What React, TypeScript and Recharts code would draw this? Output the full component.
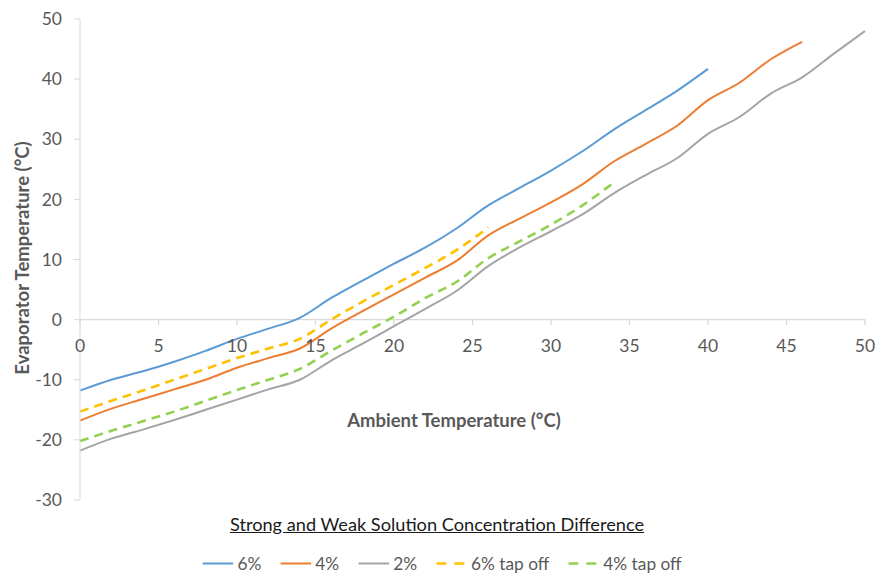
import { LineChart, Line, XAxis, YAxis, ReferenceLine, ReferenceDot } from "recharts";

const ambient = [0, 2, 4, 6, 8, 10, 12, 14, 16, 18, 20, 22, 24, 26, 28, 30, 32, 34, 36, 38, 40, 42, 44, 46, 48, 50];
const conc6 = [-11.8, -10, -8.6, -7, -5.2, -3.2, -1.5, 0.3, 3.6, 6.5, 9.3, 12, 15.2, 19, 21.9, 24.8, 28, 31.6, 34.8, 38, 41.7];
const conc4 = [-16.8, -14.8, -13.2, -11.6, -10, -8, -6.4, -4.8, -1.5, 1.4, 4.2, 7, 9.8, 14, 16.8, 19.5, 22.5, 26.3, 29.2, 32.2, 36.5, 39.4, 43.3, 46.2];
const conc2 = [-21.8, -19.8, -18.3, -16.7, -15, -13.3, -11.6, -10, -6.8, -4, -1.1, 1.8, 4.8, 8.9, 12, 14.7, 17.5, 21, 24, 26.8, 30.9, 33.7, 37.6, 40.3, 44.2, 48];
const tap6 = [-15.3, -13.5, -11.8, -10, -8.2, -6.4, -4.8, -3.2, 0, 3, 5.8, 8.6, 11.6, 15.3];
const tap4 = [-20.2, -18.5, -16.9, -15.3, -13.5, -11.7, -10, -8.2, -5.2, -2.3, 0.5, 3.6, 6.3, 10.2, 13, 15.8, 19, 22.8];

const xTicks = [0, 5, 10, 15, 20, 25, 30, 35, 40, 45, 50];
const yTicks = [-30, -20, -10, 0, 10, 20, 30, 40, 50];

const series = [
  { key: "p6", name: "6%", values: conc6, color: "#5B9BD5", dash: undefined },
  { key: "p4", name: "4%", values: conc4, color: "#ED7D31", dash: undefined },
  { key: "p2", name: "2%", values: conc2, color: "#A5A5A5", dash: undefined },
  { key: "t6", name: "6% tap off", values: tap6, color: "#FFC000", dash: "9 6" },
  { key: "t4", name: "4% tap off", values: tap4, color: "#92D050", dash: "9 6" },
];

const rows = ambient.map((x, i) => {
  const row: Record<string, number | null> = { x };
  series.forEach((s) => {
    row[s.key] = i < s.values.length ? s.values[i] : null;
  });
  return row;
});

const font = "Lato, 'Open Sans', sans-serif";
const grey = "#595959";
const axisGrey = "#d9d9d9";

export default function App() {
  return (
    <div style={{ position: "absolute", left: 0, top: 0, width: 877, height: 574, background: "#fff", fontFamily: font }}>
      <LineChart width={877} height={574} data={rows} margin={{ top: 19, right: 12, bottom: 74, left: 0 }}>
        <XAxis dataKey="x" type="number" domain={[0, 50]} ticks={xTicks} hide />
        <YAxis
          type="number"
          domain={[-30, 50]}
          ticks={yTicks}
          width={80}
          axisLine={{ stroke: axisGrey }}
          tickLine={{ stroke: axisGrey }}
          tickSize={6}
          tickMargin={12}
          tick={{ fill: grey, fontSize: 17.5, fontFamily: font }}
        />
        <ReferenceLine y={0} stroke={axisGrey} strokeWidth={1.3} />
        {xTicks.map((v) => (
          <ReferenceLine
            key={"t" + v}
            segment={[{ x: v, y: 0 }, { x: v, y: -0.9 }]}
            stroke={axisGrey}
            strokeWidth={1.3}
          />
        ))}
        {xTicks.map((v) => (
          <ReferenceDot
            key={"l" + v}
            x={v}
            y={0}
            r={0}
            fill="none"
            stroke="none"
            label={{ value: String(v), position: "bottom", offset: 20, fill: grey, fontSize: 17.5, fontFamily: font }}
          />
        ))}
        {series.map((s) => (
          <Line
            key={s.key}
            dataKey={s.key}
            type="monotone"
            stroke={s.color}
            strokeWidth={s.dash ? 2.6 : 2}
            strokeDasharray={s.dash}
            dot={false}
            activeDot={false}
            isAnimationActive={false}
          />
        ))}
      </LineChart>

      <div
        style={{
          position: "absolute",
          left: 22,
          top: 258,
          transform: "translate(-50%, -50%) rotate(-90deg)",
          whiteSpace: "nowrap",
          fontWeight: 700,
          fontSize: 18.5,
          color: grey,
        }}
      >
        Evaporator Temperature (°C)
      </div>
      <div
        style={{
          position: "absolute",
          left: 454,
          top: 420,
          transform: "translate(-50%, -50%)",
          whiteSpace: "nowrap",
          fontWeight: 700,
          fontSize: 18.5,
          color: grey,
        }}
      >
        Ambient Temperature (°C)
      </div>
      <div
        style={{
          position: "absolute",
          left: 437,
          top: 524,
          transform: "translate(-50%, -50%)",
          whiteSpace: "nowrap",
          fontSize: 18.2,
          color: "#1a1a1a",
          textDecoration: "underline",
        }}
      >
        Strong and Weak Solution Concentration Difference
      </div>
      <div
        style={{
          position: "absolute",
          left: 442,
          top: 563,
          transform: "translate(-50%, -50%)",
          display: "flex",
          alignItems: "center",
          gap: 19,
          whiteSpace: "nowrap",
          fontSize: 17.3,
          color: grey,
        }}
      >
        {series.map((s) => (
          <div key={s.key} style={{ display: "flex", alignItems: "center", gap: 4 }}>
            <svg width={31} height={10}>
              <line x1={0} y1={5} x2={31} y2={5} stroke={s.color} strokeWidth={s.dash ? 2.6 : 2} strokeDasharray={s.dash ? "10 8" : undefined} />
            </svg>
            <span>{s.name}</span>
          </div>
        ))}
      </div>
    </div>
  );
}
